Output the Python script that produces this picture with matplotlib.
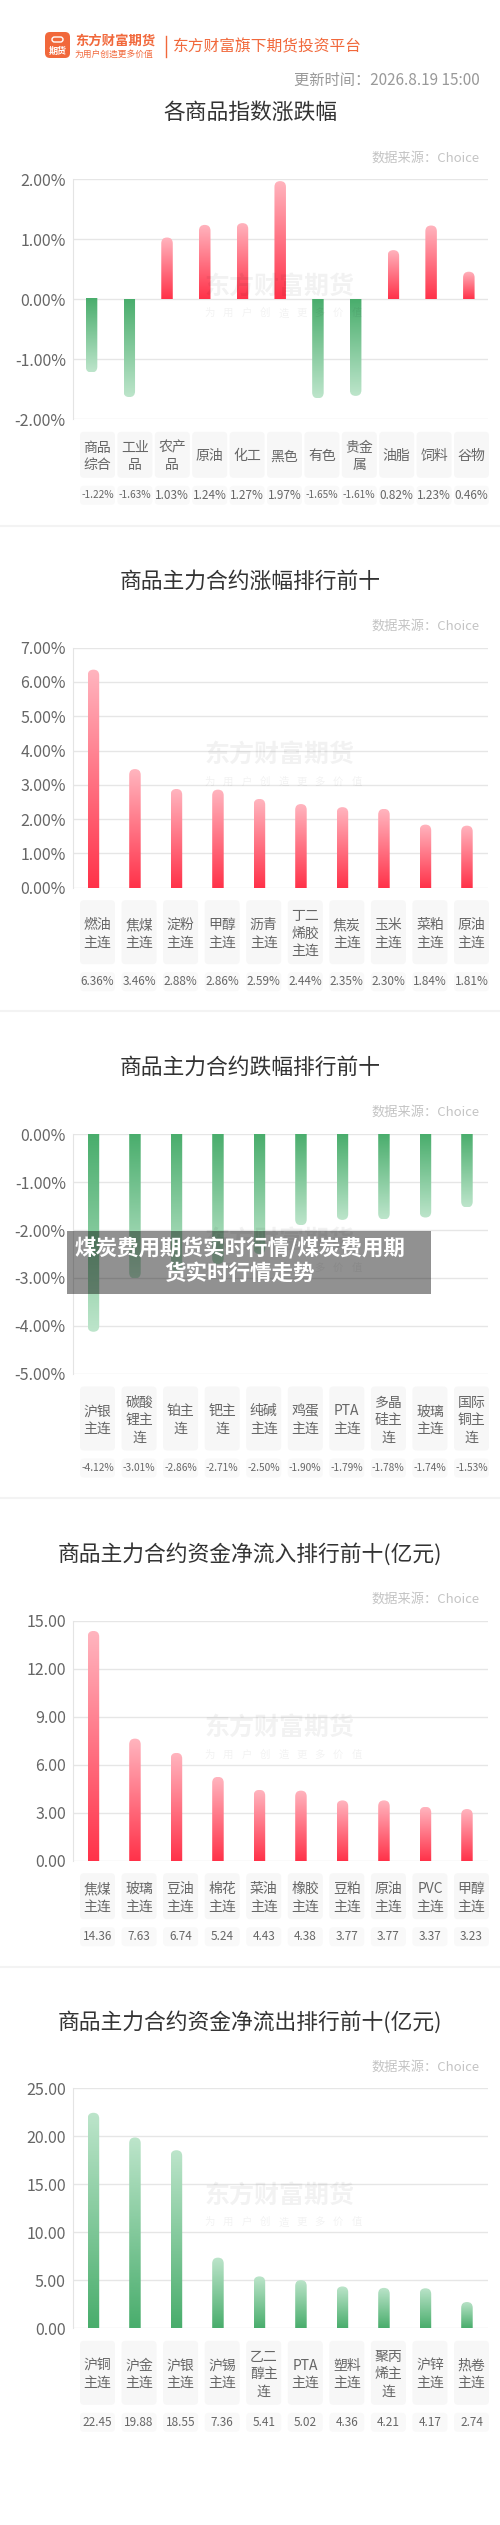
import numpy as np
import matplotlib
matplotlib.use('Agg')
from matplotlib import pyplot as plt
from matplotlib.patches import FancyBboxPatch, Rectangle
from matplotlib.colors import LinearSegmentedColormap

plt.rcParams['font.family'] = ['Noto Sans CJK SC', 'DejaVu Sans']

W, H = 500, 2525

update_time = '更新时间：2026.8.19 15:00'
source = '数据来源：Choice'

titles = ['各商品指数涨跌幅', '商品主力合约涨幅排行前十', '商品主力合约跌幅排行前十',
          '商品主力合约资金净流入排行前十(亿元)', '商品主力合约资金净流出排行前十(亿元)']

index_names = ['商品\n综合', '工业\n品', '农产\n品', '原油', '化工', '黑色', '有色', '贵金\n属', '油脂', '饲料', '谷物']
index_pct = [-1.22, -1.63, 1.03, 1.24, 1.27, 1.97, -1.65, -1.61, 0.82, 1.23, 0.46]

gain_names = ['燃油\n主连', '焦煤\n主连', '淀粉\n主连', '甲醇\n主连', '沥青\n主连', '丁二\n烯胶\n主连',
              '焦炭\n主连', '玉米\n主连', '菜粕\n主连', '原油\n主连']
gain_pct = [6.36, 3.46, 2.88, 2.86, 2.59, 2.44, 2.35, 2.30, 1.84, 1.81]

loss_names = ['沪银\n主连', '碳酸\n锂主\n连', '铂主\n连', '钯主\n连', '纯碱\n主连', '鸡蛋\n主连',
              'PTA\n主连', '多晶\n硅主\n连', '玻璃\n主连', '国际\n铜主\n连']
loss_pct = [-4.12, -3.01, -2.86, -2.71, -2.50, -1.90, -1.79, -1.78, -1.74, -1.53]

inflow_names = ['焦煤\n主连', '玻璃\n主连', '豆油\n主连', '棉花\n主连', '菜油\n主连', '橡胶\n主连',
                '豆粕\n主连', '原油\n主连', 'PVC\n主连', '甲醇\n主连']
inflow_amt = [14.36, 7.63, 6.74, 5.24, 4.43, 4.38, 3.77, 3.77, 3.37, 3.23]

outflow_names = ['沪铜\n主连', '沪金\n主连', '沪银\n主连', '沪锡\n主连', '乙二\n醇主\n连', 'PTA\n主连',
                 '塑料\n主连', '聚丙\n烯主\n连', '沪锌\n主连', '热卷\n主连']
outflow_amt = [22.45, 19.88, 18.55, 7.36, 5.41, 5.02, 4.36, 4.21, 4.17, 2.74]

banner = ['煤炭费用期货实时行情/煤炭费用期', '货实时行情走势']

RED = LinearSegmentedColormap.from_list('red', ['#ff3249', '#ffb5bf'])
GREEN = LinearSegmentedColormap.from_list('green', ['#49ad6c', '#bde5cb'])
ORANGE = '#f1683b'


def frac(x0, y0, x1, y1):
    return [x0 / W, 1 - y1 / H, (x1 - x0) / W, (y1 - y0) / H]


fig = plt.figure(figsize=(W / 100, H / 100), dpi=100)
fig.patch.set_facecolor('white')

bg = fig.add_axes([0, 0, 1, 1])
bg.set_xlim(0, W)
bg.set_ylim(H, 0)
bg.axis('off')

fg = fig.add_axes([0, 0, 1, 1], zorder=10)
fg.set_xlim(0, W)
fg.set_ylim(H, 0)
fg.axis('off')

# header
bg.add_patch(FancyBboxPatch((45, 32), 25, 26, boxstyle='round,pad=0,rounding_size=5', fc=ORANGE, ec='none'))
bg.text(57.5, 51, '期货', color='white', fontsize=6.5, weight='bold', ha='center', va='center')
bg.add_patch(FancyBboxPatch((52, 37), 11, 5, boxstyle='round,pad=0,rounding_size=2.5', fc='none', ec='white', lw=1))
bg.text(75, 41, '东方财富期货', color=ORANGE, fontsize=9.6, weight='bold', va='center')
bg.text(75, 54, '为用户创造更多价值', color=ORANGE, fontsize=6.3, va='center')
bg.plot([166, 166], [36, 57], color=ORANGE, lw=1)
bg.text(173, 47, '东方财富旗下期货投资平台', color=ORANGE, fontsize=11.3, va='center')
bg.text(480, 80, update_time, color='#999999', fontsize=11, ha='right', va='center')

for y in [525.5, 1011, 1498, 1966.5]:
    bg.plot([0, W], [y, y], color='#f3f3f3', lw=1.5)


def panel(top, title, names, vals, ticks, tick_fmt, val_fmt, pos_cmap, neg_cmap):
    n = len(names)
    bot = top + 240
    left, right = 72.7, 487.7
    bg.text(250, top - 66, title, color='#333333', fontsize=15.7, weight='medium', ha='center', va='center')
    bg.text(479, top - 21.5, source, color='#c4c4c4', fontsize=9.5, ha='right', va='center')

    ax = fig.add_axes(frac(left, top, right, bot), zorder=2)
    ax.patch.set_alpha(0)
    ymin, ymax = ticks[0], ticks[-1]
    ax.set_yticks(ticks)
    ax.set_yticklabels([tick_fmt % t for t in ticks])
    ax.set_xticks([])
    ax.tick_params(axis='y', length=0, pad=5, labelsize=11.5, labelcolor='#666666')
    for s in ['top', 'right', 'bottom']:
        ax.spines[s].set_visible(False)
    ax.spines['left'].set_color('#e4e4e4')
    ax.yaxis.grid(True, color='#e6e6e6', lw=1)
    ax.set_axisbelow(True)

    pxx = (right - left) / n
    pxy = 240 / (ymax - ymin)
    w = 11.5 / pxx
    bars = ax.bar(range(n), vals, width=w, color='none', edgecolor='none')
    grad = np.linspace(0, 1, 256).reshape(-1, 1)
    ext = 10 / pxy
    for b, v in zip(bars, vals):
        x0, bw = b.get_x(), b.get_width()
        im = ax.imshow(grad, extent=[x0, x0 + bw, 0, v], origin='lower',
                       cmap=pos_cmap if v > 0 else neg_cmap,
                       aspect='auto', interpolation='bilinear', zorder=3)
        lo, hi = (-ext, v) if v > 0 else (v, ext)
        clip = FancyBboxPatch((x0, lo), bw, hi - lo, boxstyle='round,pad=0,rounding_size=%f' % (bw / 2),
                              mutation_aspect=pxx / pxy, transform=ax.transData)
        im.set_clip_path(clip)
    ax.set_xlim(-0.5, n - 0.5)
    ax.set_ylim(ymin, ymax)

    # watermark
    cy = top + 120
    fg.text(280, cy - 13, '东方财富期货', color='black', alpha=0.05, fontsize=18, weight='bold',
            ha='center', va='center')
    for i, ch in enumerate('为用户创造更多价值'):
        fg.text(210 + i * 18.3, cy + 14, ch, color='black', alpha=0.05, fontsize=7.5, ha='center', va='center')

    # category and value boxes
    lines = max(s.count('\n') + 1 for s in names)
    box_top = bot + 12.5
    box_h = 10 + 18 * lines
    val_top = box_top + box_h + 8
    step = (489 - 80 - 35) / (n - 1)
    for i, (name, v) in enumerate(zip(names, vals)):
        bx = 80 + i * step
        bg.add_patch(FancyBboxPatch((bx, box_top), 35, box_h, boxstyle='round,pad=0,rounding_size=4',
                                    fc='#f7f7f7', ec='none'))
        bg.text(bx + 17.5, box_top + box_h / 2 + 1.5, name, color='#666666', fontsize=10,
                ha='center', va='center', linespacing=1.3)
        bg.add_patch(FancyBboxPatch((bx, val_top), 35, 19, boxstyle='round,pad=0,rounding_size=4',
                                    fc='#f9f9f9', ec='none'))
        bg.text(bx + 17.5, val_top + 9.5, val_fmt % v, color='#666666',
                fontsize=7.3 if v < 0 else 8.5, ha='center', va='center')
    return ax


panel(179.3, titles[0], index_names, index_pct, [-2, -1, 0, 1, 2], '%.2f%%', '%.2f%%', RED, GREEN)
panel(647.7, titles[1], gain_names, gain_pct, [0, 1, 2, 3, 4, 5, 6, 7], '%.2f%%', '%.2f%%', RED, GREEN)
panel(1134, titles[2], loss_names, loss_pct, [-5, -4, -3, -2, -1, 0], '%.2f%%', '%.2f%%', RED, GREEN)
panel(1620.7, titles[3], inflow_names, inflow_amt, [0, 3, 6, 9, 12, 15], '%.2f', '%.2f', RED, GREEN)
panel(2088.3, titles[4], outflow_names, outflow_amt, [0, 5, 10, 15, 20, 25], '%.2f', '%.2f', GREEN, GREEN)

# overlay banner
fg.add_patch(Rectangle((66.7, 1231), 364.3, 62.7, fc='black', alpha=0.43, ec='none'))
fg.text(240, 1248, banner[0], color='white', fontsize=15.5, weight='bold', ha='center', va='center')
fg.text(240, 1273, banner[1], color='white', fontsize=15.5, weight='bold', ha='center', va='center')

fig.savefig('out.png', dpi=100)
